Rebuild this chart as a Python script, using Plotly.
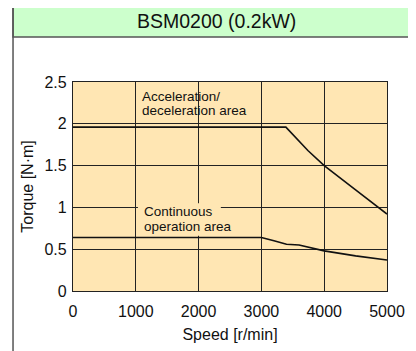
import plotly.graph_objects as go

title_text = "BSM0200 (0.2kW)"
x_label = "Speed [r/min]"
y_label = "Torque [N·m]"

# Acceleration/deceleration (peak) torque curve
acc_speed = [0, 3390, 3740, 4000, 4500, 5000]
acc_torque = [1.96, 1.96, 1.68, 1.50, 1.21, 0.92]

# Continuous torque curve
cont_speed = [0, 3000, 3200, 3400, 3600, 4000, 4500, 5000]
cont_torque = [0.64, 0.64, 0.60, 0.56, 0.55, 0.48, 0.42, 0.37]

x_ticks = [0, 1000, 2000, 3000, 4000, 5000]
y_ticks = [0, 0.5, 1, 1.5, 2, 2.5]

PLOT_BG = "#FFE6B3"
GRID = "#222222"
FONT = "Liberation Sans, Arial, sans-serif"

fig = go.Figure()
fig.add_trace(go.Scatter(x=acc_speed, y=acc_torque, mode="lines",
                         line=dict(color="#111111", width=1.6), hoverinfo="skip"))
fig.add_trace(go.Scatter(x=cont_speed, y=cont_torque, mode="lines",
                         line=dict(color="#111111", width=1.6), hoverinfo="skip"))

shapes = []
# frame lines and title band (paper coords)
shapes.append(dict(type="rect", xref="paper", yref="paper",
                   x0=-0.191, x1=1.3, y0=1.215, y1=1.373,
                   fillcolor="#CCFFCC", line=dict(color="#555555", width=1.5), layer="below"))
shapes.append(dict(type="line", xref="paper", yref="paper",
                   x0=-0.191, x1=-0.191, y0=-0.4, y1=1.373,
                   line=dict(color="#555555", width=1.5)))
# white-out behind the continuous label (covers gridlines, not curves)
shapes.append(dict(type="rect", xref="x", yref="y",
                   x0=1034, x1=2354, y0=0.66, y1=1.05,
                   fillcolor=PLOT_BG, line=dict(width=0), layer="between"))
fig.update_layout(shapes=shapes)

ann_font = dict(family=FONT, size=13.5, color="#111111")
annotations = [
    dict(text=title_text, xref="paper", yref="paper", x=0.456, y=1.294,
         showarrow=False, font=dict(family=FONT, size=19.5, color="#111111"),
         xanchor="center", yanchor="middle"),
    dict(text="Acceleration/", x=1060, y=2.33, xref="x", yref="y", showarrow=False,
         font=ann_font, xanchor="left", yanchor="middle"),
    dict(text="deceleration area", x=1060, y=2.155, xref="x", yref="y", showarrow=False,
         font=ann_font, xanchor="left", yanchor="middle"),
    dict(text="Continuous", x=1095, y=0.947, xref="x", yref="y", showarrow=False,
         font=ann_font, xanchor="left", yanchor="middle"),
    dict(text="operation area", x=1095, y=0.774, xref="x", yref="y", showarrow=False,
         font=ann_font, xanchor="left", yanchor="middle"),
]
fig.update_layout(annotations=annotations)

fig.update_layout(
    width=408, height=343,
    margin=dict(l=65, r=29, t=74, b=60, pad=0),
    paper_bgcolor="white",
    plot_bgcolor=PLOT_BG,
    showlegend=False,
    font=dict(family=FONT, size=16, color="#111111"),
)
fig.update_xaxes(range=[0, 5000], tickvals=x_ticks, ticktext=[str(v) for v in x_ticks],
                 showgrid=True, gridcolor=GRID, gridwidth=1, zeroline=False,
                 showline=True, linecolor=GRID, linewidth=1.2, mirror=True,
                 ticks="", ticklabelstandoff=6,
                 title=dict(text=x_label, standoff=9, font=dict(size=16)))
fig.update_yaxes(range=[0, 2.5], tickvals=y_ticks, ticktext=["0", "0.5", "1", "1.5", "2", "2.5"],
                 showgrid=True, gridcolor=GRID, gridwidth=1, zeroline=False,
                 showline=True, linecolor=GRID, linewidth=1.2, mirror=True,
                 ticks="", ticklabelstandoff=2,
                 title=dict(text=y_label, standoff=6, font=dict(size=16)))

fig.write_html("out.html")
